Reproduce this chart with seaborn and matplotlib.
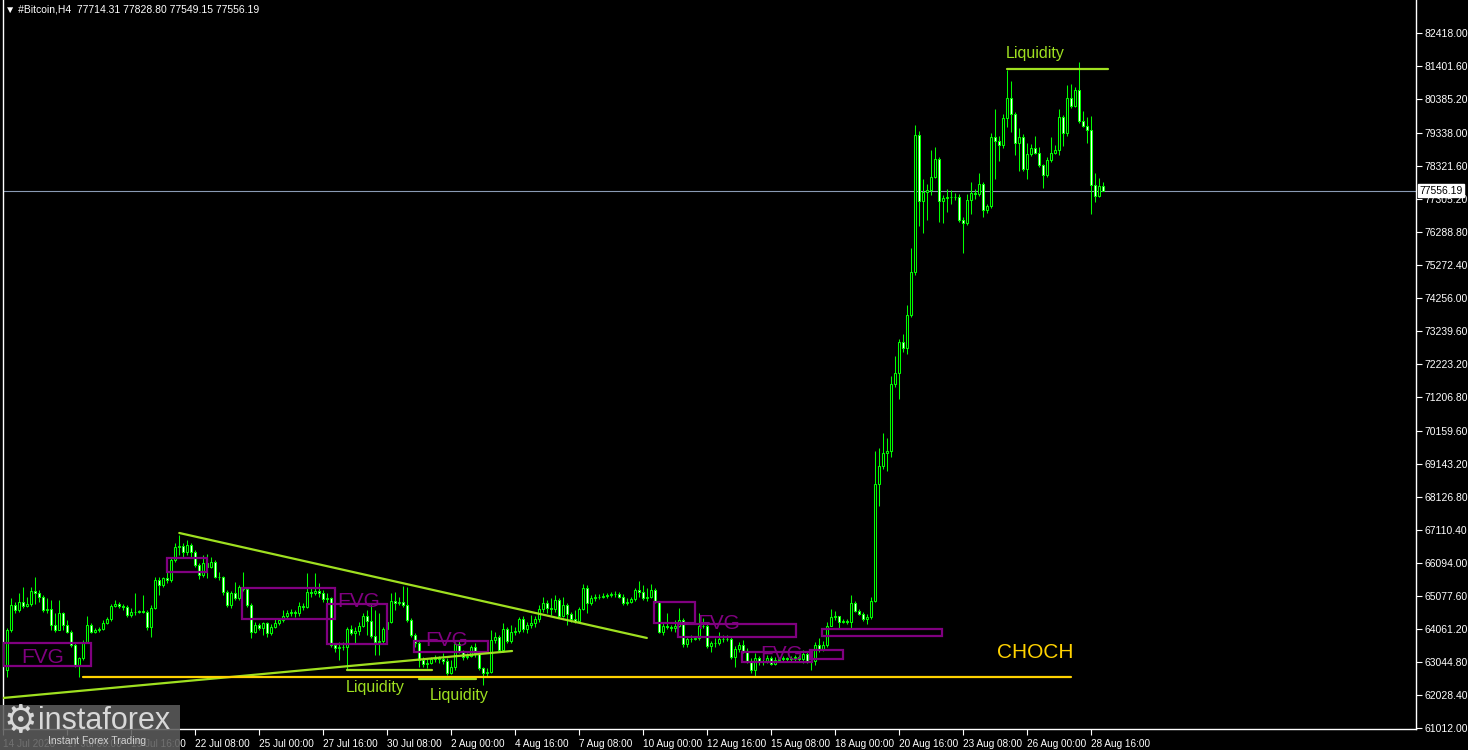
import numpy as np
import pandas as pd
import matplotlib
matplotlib.use('Agg')
import matplotlib.pyplot as plt
import matplotlib.patches as patches
import seaborn as sns

# H4 candles, 14 Jul 12:00 .. 29 Aug 04:00
first_open = 62800.0
closes = [
    64030, 64800, 64645, 64900, 64770, 64830, 65230, 65160, 65055, 64645,
    64665, 64185, 64030, 64545, 64185, 63980, 63565, 62950, 63155, 63670,
    64185, 63980, 64030, 64070, 64255, 64360, 64770, 64830, 64770, 64750,
    64490, 64595, 64595, 64605, 64585, 64110, 64695, 65570, 65415, 65620,
    65570, 66185, 66595, 66605, 66440, 66650, 66440, 66030, 65725, 66085,
    65980, 66135, 65670, 65670, 65210, 64800, 65160, 65005, 65345, 65280,
    64800, 63980, 64185, 64100, 64235, 63925, 64130, 64235, 64340,
    64461, 64563, 64574, 64543, 64779, 64728, 65210, 65159, 65241, 65159,
    64974, 65005, 63567, 63464, 63516, 63495, 64060, 63927, 63999, 64163,
    64461, 64307, 63845, 63670, 63690, 64060, 64286, 64933, 64871, 64892,
    64810, 64337, 63875, 63619, 63105, 62982, 63023, 63146, 63167, 63126,
    63074, 62715, 62879, 63598, 63362, 63208, 63228, 63495, 63310, 62848,
    62715, 62746, 63721, 63803, 63413, 64060, 63690, 63978, 63988, 64358,
    64050, 64183, 64255, 64358, 64666, 64851, 64697,
    64666, 64954, 64461, 64789, 64522, 64358, 64307, 64666, 65313, 64872,
    65005, 65036, 65056, 65077, 65097, 65128, 65139, 65056, 64872, 64902,
    64974, 65262, 65200, 65015, 65056, 65262, 64902, 63968, 64153, 64112,
    64081, 64153, 64338, 63598, 63742, 63762, 63773, 64163, 64153, 63536,
    63639, 63618, 63752, 63762, 63742, 63208, 63444, 63567, 63392, 63085,
    62797, 63156, 63054, 63085, 63167, 62982, 63105, 63126, 63156, 63126,
    63156, 63208, 63126, 63290, 63064, 63085, 63578, 63434, 63567, 64153,
    64437, 64460, 64289, 64300, 64289, 64870, 64630, 64528, 64380, 64425,
    64927, 68516, 69086, 69473, 69530, 71593, 71957, 72892, 72721, 73746,
    75068, 79284, 77256, 77518, 77575, 77997, 78532, 77256, 77336, 77358,
    77370, 77381, 76663, 76572, 77279, 77484, 77461, 77769, 76971, 77074,
    79216, 79079, 78965, 79797, 80412, 79934, 79022, 79216, 78224, 78680,
    78874, 78737, 78339, 78031, 78509, 78737, 78828, 79820, 79330, 80412,
    80162, 80652, 79706, 79558, 79421, 77746, 77393, 77714.31, 77556.19,
]
highs = [
    64080, 65005, 64902, 65159, 65364, 65056, 65364, 65652, 65262, 65108,
    65005, 64954, 64543, 64954, 64594, 64337, 64029, 63618, 63207, 63721,
    64460, 64234, 64080, 64132, 64337, 64419, 64830, 64954, 64902, 64830,
    64799, 64697, 65159, 64645, 65108, 64645, 64799, 65672, 65672, 65672,
    65826, 66237, 66699, 66956, 66720, 66802, 66699, 66494, 66083, 66340,
    66371, 66288, 66186, 65826, 65693, 65262, 65231, 65518, 65416, 65826,
    65364, 64871, 64286, 64234, 64286, 64286, 64204, 64358, 64388,
    64646, 64646, 64666, 64646, 64902, 64851, 65775, 65313, 65775, 65467,
    65262, 65159, 65056, 63619, 63670, 63670, 64132, 64183, 64132, 64286,
    64543, 64646, 64851, 64646, 64543, 64132, 64748, 65159, 65210, 65056,
    65385, 65364, 64389, 63927, 63721, 63208, 63156, 63208, 63259, 63228,
    63310, 63156, 63105, 63670, 63721, 63413, 63331, 63567, 63619, 63362,
    62900, 62848, 64029, 63978, 63875, 64235, 64132, 64183, 64132, 64440,
    64461, 64286, 64492, 64461, 64800, 65056, 64954,
    65005, 65108, 65005, 65036, 64851, 64594, 64646, 64728, 65447, 65416,
    65108, 65139, 65139, 65159, 65180, 65211, 65241, 65211, 65139, 65005,
    65056, 65313, 65549, 65416, 65313, 65447, 65313, 64933, 64235, 64543,
    64183, 64338, 64697, 64389, 63824, 63875, 63824, 64543, 64389, 64214,
    63701, 63773, 63978, 63875, 63875, 63824, 63536, 63670, 63721, 63465,
    63156, 63310, 63228, 63187, 63259, 63228, 63187, 63187, 63228, 63208,
    63228, 63259, 63259, 63413, 63362, 63187, 63670, 63773, 63701, 64286,
    64665, 64630, 64460, 64357, 64357, 65120, 64927, 64687, 64585, 64517,
    65040, 69530, 69621, 70100, 69940, 71843, 72470, 72983, 73154, 74043,
    75797, 79569, 79398, 77917, 77769, 78817, 78908, 78600, 77427, 77598,
    77575, 77484, 77461, 76743, 77461, 77826, 77598, 78111, 77826, 77142,
    79353, 80070, 79250, 79911, 81278, 80937, 79991, 79478, 79307, 79022,
    78988, 79250, 78908, 78396, 78600, 79227, 78965, 80082, 79877, 80811,
    80845, 80766, 81529, 80025, 79820, 79854, 78111, 77940, 77828.80,
]
lows = [
    62591, 63978, 64543, 64594, 64697, 64728, 64769, 64830, 64902, 64594,
    64543, 64029, 63978, 64029, 64029, 63926, 63516, 62899, 62591, 63105,
    63618, 63926, 63926, 63978, 64029, 64214, 64317, 64728, 64697, 64645,
    64419, 64419, 64491, 64543, 64543, 64029, 63824, 64666, 65108, 65364,
    65467, 65518, 66135, 66340, 66237, 66340, 66288, 65980, 65590, 65672,
    65621, 65929, 65621, 65570, 65108, 64748, 64697, 64954, 64954, 65241,
    64748, 63772, 63926, 64029, 63875, 63824, 63875, 64080, 64183,
    64286, 64389, 64461, 64440, 64461, 64646, 64697, 65056, 65108, 65056,
    64902, 64851, 63495, 63362, 63105, 63413, 62797, 63875, 63619, 63875,
    64132, 63875, 63772, 63259, 63259, 63619, 63978, 64235, 64646, 64800,
    64748, 64286, 63803, 63516, 62900, 62879, 62848, 62982, 63054, 63002,
    62982, 62643, 62674, 62797, 63310, 63105, 63146, 63187, 63208, 62797,
    62335, 62592, 62695, 63619, 63362, 63362, 63619, 63619, 63875, 63927,
    63978, 63947, 64081, 64132, 64286, 64594, 64543,
    64491, 64594, 64389, 64440, 64183, 64286, 64235, 64256, 64646, 64543,
    64800, 64933, 64974, 65005, 65005, 65036, 65056, 65005, 64800, 64800,
    64851, 64933, 65056, 64954, 64933, 65005, 64872, 63927, 63875, 64050,
    64009, 63978, 64132, 63516, 63516, 63670, 63721, 63721, 64081, 63465,
    63362, 63516, 63567, 63670, 63701, 63126, 62879, 63362, 63310, 63002,
    62694, 62612, 62951, 62951, 63002, 62951, 62951, 63054, 63085, 63054,
    63085, 63085, 63054, 63023, 63002, 62797, 62951, 63362, 63392, 63516,
    64151, 64323, 64095, 64243, 64209, 64095, 64585, 64494, 64311, 64209,
    64380, 64892, 67855, 68995, 68938, 69371, 71502, 71160, 72584, 72527,
    73660, 74954, 76458, 76265, 76663, 77427, 77940, 76607, 76572, 76914,
    77142, 77279, 76595, 75638, 76515, 76857, 77313, 77393, 76743, 76880,
    77028, 77906, 78475, 78874, 79535, 79364, 78657, 78168, 78168, 77917,
    78623, 78680, 78281, 77655, 77997, 78452, 78680, 78646, 78942, 79250,
    80105, 80127, 79649, 79535, 79022, 76857, 77199, 77370, 77549.15,
]

x_tick_pos = [-1, 15, 31, 47, 63, 79, 95, 111, 127, 143, 159, 175, 191, 207, 223, 239, 255, 271]
x_tick_labels = ['14 Jul 2026', '17 Jul 00:00', '19 Jul 16:00', '22 Jul 08:00', '25 Jul 00:00',
                 '27 Jul 16:00', '30 Jul 08:00', '2 Aug 00:00', '4 Aug 16:00', '7 Aug 08:00',
                 '10 Aug 00:00', '12 Aug 16:00', '15 Aug 08:00', '18 Aug 00:00', '20 Aug 16:00',
                 '23 Aug 08:00', '26 Aug 00:00', '28 Aug 16:00']
y_tick_labels = ['82418.00', '81401.60', '80385.20', '79338.00', '78321.60', '77305.20',
                 '76288.80', '75272.40', '74256.00', '73239.60', '72223.20', '71206.80',
                 '70159.60', '69143.20', '68126.80', '67110.40', '66094.00', '65077.60',
                 '64061.20', '63044.80', '62028.40', '61012.00']
last_price = 77556.19
header = '#Bitcoin,H4  77714.31 77828.80 77549.15 77556.19'

# colours
LIME = '#00ff00'
YG = '#9fe020'
GOLD = '#ffd200'
PURPLE = '#800080'

sns.set_theme(style='dark', rc={'axes.facecolor': 'black', 'figure.facecolor': 'black',
                                'axes.edgecolor': 'white', 'axes.grid': False})
plt.rcParams['font.family'] = ['Liberation Sans', 'DejaVu Sans']

df = pd.DataFrame({'close': closes, 'high': highs, 'low': lows})
df['open'] = [first_open] + closes[:-1]
df['idx'] = np.arange(len(df))
df['high'] = df[['high', 'open', 'close']].max(axis=1)
df['low'] = df[['low', 'open', 'close']].min(axis=1)
df['bull'] = df['close'] >= df['open']

W, H = 1468, 750
fig = plt.figure(figsize=(W / 100, H / 100), dpi=100)
ax = fig.add_axes([3 / W, 21 / H, 1413 / W, 729 / H])
ax.set_facecolor('black')

# candles
ax.vlines(df['idx'], df['low'], df['high'], color=LIME, lw=0.75, zorder=3)
body_bottom = df[['open', 'close']].min(axis=1)
body_height = (df['close'] - df['open']).abs()
ax.bar(df['idx'], body_height, bottom=body_bottom, width=0.5,
       color=np.where(df['bull'], 'black', 'white'), edgecolor=LIME, lw=0.75, zorder=4)

# current price line
ax.axhline(last_price, color='#8a9ab4', lw=0.8, zorder=2)

# FVG boxes
fvg_boxes = [(-1.1, 20.9, 62921, 63630), (39.9, 49.9, 65817, 66248), (58.7, 81.9, 64369, 65324),
             (79.9, 94.9, 63599, 64831), (101.7, 120.2, 63353, 63691), (161.7, 171.9, 64246, 64893),
             (167.7, 197.2, 63815, 64215), (183.7, 201.2, 63034, 63353), (200.7, 208.9, 63137, 63414),
             (203.7, 233.7, 63845, 64061)]
for x0, x1, p0, p1 in fvg_boxes:
    ax.add_patch(patches.Rectangle((x0, p0), x1 - x0, p1 - p0, fill=False,
                                   edgecolor=PURPLE, lw=1.6, zorder=5))
for xc, pc in [(8.9, 63168), (87.9, 64923), (109.9, 63722), (177.9, 64215), (193.7, 63260)]:
    ax.text(xc, pc, 'FVG', color=PURPLE, fontsize=15, ha='center', va='center', zorder=6)

# trend lines and levels
ax.plot([43.0, 159.9], [67018, 63784], color=YG, lw=1.6, zorder=5)
ax.plot([-1.1, 126.2], [61936, 63383], color=YG, lw=1.6, zorder=5)
ax.plot([19.0, 265.9], [62580, 62580], color=GOLD, lw=1.6, zorder=5)
ax.plot([84.9, 106.2], [62798, 62798], color=YG, lw=1.6, zorder=5)
ax.plot([102.9, 117.2], [62521, 62521], color=YG, lw=1.6, zorder=5)
ax.plot([249.9, 275.2], [81309, 81309], color=YG, lw=1.6, zorder=5)
for xc, pc in [(91.9, 62244), (112.9, 62028), (256.9, 81771)]:
    ax.text(xc, pc, 'Liquidity', color=YG, fontsize=11.5, ha='center', va='center', zorder=6)
ax.text(256.9, 63322, 'CHOCH', color=GOLD, fontsize=15, ha='center', va='center', zorder=6)

# axes
ax.set_xlim(-1.075, 352.2)
ax.set_ylim(83434 - 30.8 * 729, 83434)
ax.spines['top'].set_visible(False)
for s in ['left', 'right', 'bottom']:
    ax.spines[s].set_color('white')
    ax.spines[s].set_linewidth(1)
ax.yaxis.tick_right()
ax.set_yticks([float(v) for v in y_tick_labels])
ax.set_yticklabels(y_tick_labels)
ax.set_xticks(x_tick_pos)
ax.set_xticklabels(x_tick_labels, ha='left')
ax.tick_params(axis='y', colors='white', labelsize=7.5, length=4, width=0.8, direction='out',
               pad=2, right=True, left=False)
ax.tick_params(axis='x', colors='white', labelsize=7.2, length=4, width=0.8, direction='out',
               pad=3, bottom=True)
ax.set_xlabel('')
ax.set_ylabel('')

# current price tag
ax.text(1.0022, last_price, f'{last_price:.2f}', transform=ax.get_yaxis_transform(),
        ha='left', va='center', fontsize=7.5, color='black', zorder=10, clip_on=False,
        bbox=dict(facecolor='white', edgecolor='white', boxstyle='square,pad=0.15'))

# header
fig.text(5 / W, 1 - 10 / H, '\u25bc ' + header, color='white', fontsize=7.5,
         ha='left', va='center', family=['Liberation Sans', 'DejaVu Sans'])

# watermark
fig.patches.append(patches.Rectangle((0, 0), 180 / W, 45 / H, transform=fig.transFigure,
                                     facecolor='#5c5c5c', alpha=0.88, edgecolor='none', zorder=20))
fig.text(20 / W, 1 - 722 / H, '\u2699', color='#d8d8d8', fontsize=27, ha='center', va='center',
         family=['DejaVu Sans'], zorder=21)
fig.text(38 / W, 1 - 721 / H, 'instaforex', color='#d8d8d8', fontsize=22, ha='left', va='center',
         zorder=21)
fig.text(48 / W, 1 - 741 / H, 'Instant Forex Trading', color='#d0d0d0', fontsize=7.5,
         ha='left', va='center', zorder=21)

fig.savefig('out.png', dpi=100, facecolor='black')
